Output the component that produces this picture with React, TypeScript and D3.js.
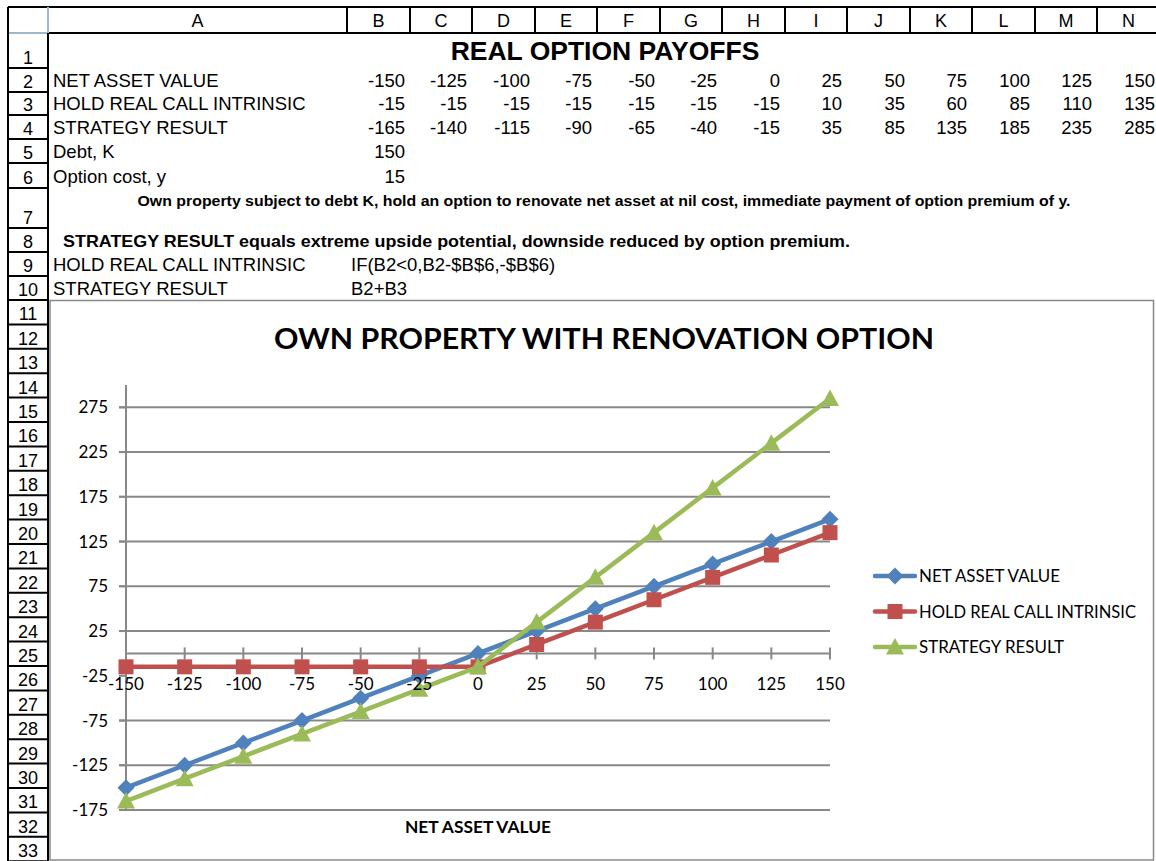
import React, { useEffect, useRef } from "react";
import * as d3 from "d3";

// chart / sheet values
const categories = ["-150", "-125", "-100", "-75", "-50", "-25", "0", "25", "50", "75", "100", "125", "150"];
const netAssetValue = [-150, -125, -100, -75, -50, -25, 0, 25, 50, 75, 100, 125, 150];
const holdRealCall = [-15, -15, -15, -15, -15, -15, -15, 10, 35, 60, 85, 110, 135];
const strategyResult = [-165, -140, -115, -90, -65, -40, -15, 35, 85, 135, 185, 235, 285];
const yTicks = [-175, -125, -75, -25, 25, 75, 125, 175, 225, 275];

const columnLetters = ["A", "B", "C", "D", "E", "F", "G", "H", "I", "J", "K", "L", "M", "N"];
const seriesNames = ["NET ASSET VALUE", "HOLD REAL CALL INTRINSIC", "STRATEGY RESULT"];
const debtK = 150;
const optionCost = 15;

const W = 1156;
const H = 861;
const SHEET_FONT = "'Liberation Sans', Arial, sans-serif";
const CHART_FONT = "Lato, 'Open Sans', sans-serif";

const App = () => {
  const ref = useRef(null);

  useEffect(() => {
    const svg = d3.select(ref.current);
    svg.selectAll("*").remove();

    // ---------- sheet grid ----------
    const colEdges = [48, 347, 410, 472, 535, 597, 660, 722, 785, 847, 910, 972, 1035, 1097, 1160];
    const rowEdges = [33, 68, 92, 115, 139, 163, 188, 228, 252, 276, 300];
    for (let r = 11; r <= 33; r++) rowEdges.push(300 + (r - 10) * 24.4);

    svg.append("rect").attr("width", W).attr("height", H).attr("fill", "white");

    // column headers
    const head = svg.append("g");
    head.append("line").attr("x1", 8).attr("x2", W).attr("y1", 7).attr("y2", 7)
      .attr("stroke", "#000").attr("stroke-width", 2);
    head.append("line").attr("x1", 48).attr("x2", W).attr("y1", 33).attr("y2", 33)
      .attr("stroke", "#000").attr("stroke-width", 2);
    head.append("line").attr("x1", 8).attr("x2", 48).attr("y1", 33).attr("y2", 33)
      .attr("stroke", "#9fb6cf").attr("stroke-width", 2);
    head.append("line").attr("x1", 48).attr("x2", 48).attr("y1", 7).attr("y2", 33)
      .attr("stroke", "#9fb6cf").attr("stroke-width", 2);
    colEdges.slice(1).forEach((x) => {
      head.append("line").attr("x1", x).attr("x2", x).attr("y1", 7).attr("y2", 33)
        .attr("stroke", "#000").attr("stroke-width", 2);
    });
    columnLetters.forEach((c, i) => {
      head.append("text")
        .attr("x", (colEdges[i] + colEdges[i + 1]) / 2)
        .attr("y", 27)
        .attr("text-anchor", "middle")
        .attr("font-family", SHEET_FONT)
        .attr("font-size", 18)
        .text(c);
    });

    // row headers
    head.append("line").attr("x1", 8).attr("x2", 8).attr("y1", 7).attr("y2", H)
      .attr("stroke", "#000").attr("stroke-width", 2);
    head.append("line").attr("x1", 48).attr("x2", 48).attr("y1", 33).attr("y2", H)
      .attr("stroke", "#000").attr("stroke-width", 2);
    rowEdges.forEach((y, i) => {
      if (i === 0) return;
      head.append("line").attr("x1", 8).attr("x2", 48).attr("y1", y).attr("y2", y)
        .attr("stroke", "#000").attr("stroke-width", 2);
      head.append("text")
        .attr("x", 28)
        .attr("y", y - 4)
        .attr("text-anchor", "middle")
        .attr("font-family", SHEET_FONT)
        .attr("font-size", 18)
        .text(i);
    });

    const rowBottom = (r) => rowEdges[r];
    const cellText = (txt, x, r, opts = {}) => {
      svg.append("text")
        .attr("x", x)
        .attr("y", rowBottom(r) - (opts.pad ?? 5))
        .attr("text-anchor", opts.anchor || "start")
        .attr("font-family", SHEET_FONT)
        .attr("font-size", opts.size || 18.5)
        .attr("font-weight", opts.bold ? "bold" : "normal")
        .attr("textLength", opts.len || null)
        .attr("lengthAdjust", opts.len ? "spacingAndGlyphs" : null)
        .text(txt);
    };

    cellText("REAL OPTION PAYOFFS", 605, 1, { anchor: "middle", bold: true, size: 26.5, pad: 8 });
    [netAssetValue, holdRealCall, strategyResult].forEach((vals, s) => {
      cellText(seriesNames[s], 53, s + 2);
      vals.forEach((v, i) => cellText(String(v), colEdges[i + 2] - 5, s + 2, { anchor: "end" }));
    });
    cellText("Debt, K", 53, 5);
    cellText(String(debtK), colEdges[2] - 5, 5, { anchor: "end" });
    cellText("Option cost, y", 53, 6);
    cellText(String(optionCost), colEdges[2] - 5, 6, { anchor: "end" });
    cellText(
      "Own property subject to debt K, hold an option to renovate net asset at nil cost, immediate payment of option premium of y.",
      604, 7, { anchor: "middle", bold: true, size: 14.5, pad: 22, len: 933 }
    );
    cellText(
      "STRATEGY RESULT equals extreme upside potential, downside reduced by option premium.",
      63, 8, { bold: true, size: 16.5, len: 787 }
    );
    cellText(seriesNames[1], 53, 9);
    cellText("IF(B2<0,B2-$B$6,-$B$6)", 351, 9);
    cellText(seriesNames[2], 53, 10);
    cellText("B2+B3", 351, 10);

    // ---------- chart ----------
    const chart = svg.append("g");
    chart.append("rect")
      .attr("x", 50).attr("y", 300.5).attr("width", 1103.5).attr("height", 559.5)
      .attr("fill", "white").attr("stroke", "#8a8a8a").attr("stroke-width", 1.5);

    chart.append("text")
      .attr("x", 604).attr("y", 349)
      .attr("text-anchor", "middle")
      .attr("font-family", CHART_FONT)
      .attr("font-weight", "bold")
      .attr("font-size", 29)
      .attr("textLength", 660)
      .attr("lengthAdjust", "spacingAndGlyphs")
      .text("OWN PROPERTY WITH RENOVATION OPTION");

    const x = d3.scalePoint().domain(categories).range([126, 830]);
    const y = d3.scaleLinear().domain([-175, 300]).range([810, 385]);
    const grid = "#888888";

    // gridlines + y ticks (the -25 line sits under the x labels and is not shown)
    yTicks.filter((t) => t !== -25).forEach((t) => {
      chart.append("line").attr("x1", 119).attr("x2", 830).attr("y1", y(t)).attr("y2", y(t))
        .attr("stroke", grid).attr("stroke-width", 2);
    });
    yTicks.forEach((t) => {
      chart.append("line").attr("x1", 119).attr("x2", 126).attr("y1", y(t)).attr("y2", y(t))
        .attr("stroke", grid).attr("stroke-width", 2);
      chart.append("text")
        .attr("x", 108).attr("y", y(t) + 6)
        .attr("text-anchor", "end")
        .attr("font-family", CHART_FONT)
        .attr("font-size", 17)
        .text(t);
    });
    chart.append("line").attr("x1", 126).attr("x2", 126).attr("y1", 385).attr("y2", 810)
      .attr("stroke", grid).attr("stroke-width", 2);

    // x axis at zero
    chart.append("line").attr("x1", 126).attr("x2", 830).attr("y1", y(0)).attr("y2", y(0))
      .attr("stroke", grid).attr("stroke-width", 2);
    categories.forEach((c) => {
      chart.append("line").attr("x1", x(c)).attr("x2", x(c)).attr("y1", y(0) - 6).attr("y2", y(0) + 6)
        .attr("stroke", grid).attr("stroke-width", 2);
    });

    chart.append("text")
      .attr("x", 478).attr("y", 833)
      .attr("text-anchor", "middle")
      .attr("font-family", CHART_FONT)
      .attr("font-weight", "bold")
      .attr("font-size", 17.5)
      .attr("textLength", 146)
      .attr("lengthAdjust", "spacingAndGlyphs")
      .text("NET ASSET VALUE");

    const markers = {
      diamond: "M0,-8.5L8.5,0L0,8.5L-8.5,0Z",
      square: "M-7.5,-7.5H7.5V7.5H-7.5Z",
      triangle: "M0,-9L9,7.5L-9,7.5Z",
    };
    const series = [
      { name: seriesNames[0], values: netAssetValue, color: "#4F81BD", marker: markers.diamond },
      { name: seriesNames[1], values: holdRealCall, color: "#C0504D", marker: markers.square },
      { name: seriesNames[2], values: strategyResult, color: "#9BBB59", marker: markers.triangle },
    ];

    const line = d3.line().x((d, i) => x(categories[i])).y((d) => y(d));

    series.forEach((s) => {
      chart.append("path")
        .attr("d", line(s.values))
        .attr("fill", "none")
        .attr("stroke", s.color)
        .attr("stroke-width", 4.5)
        .attr("stroke-linejoin", "round");
      s.values.forEach((v, i) => {
        chart.append("path")
          .attr("d", s.marker)
          .attr("transform", `translate(${x(categories[i])},${y(v)})`)
          .attr("fill", s.color);
      });
    });

    // x labels drawn over the lines
    categories.forEach((c) => {
      chart.append("text")
        .attr("x", x(c)).attr("y", 690)
        .attr("text-anchor", "middle")
        .attr("font-family", CHART_FONT)
        .attr("font-size", 17)
        .text(c);
    });

    // legend
    const legendLens = [141, 217, 145];
    series.forEach((s, i) => {
      const ly = 576 + i * 35.5;
      chart.append("line").attr("x1", 875).attr("x2", 915).attr("y1", ly).attr("y2", ly)
        .attr("stroke", s.color).attr("stroke-width", 4.5).attr("stroke-linecap", "round");
      chart.append("path").attr("d", s.marker).attr("transform", `translate(895,${ly})`).attr("fill", s.color);
      chart.append("text")
        .attr("x", 919).attr("y", ly + 6)
        .attr("font-family", CHART_FONT)
        .attr("font-size", 16.5)
        .attr("textLength", legendLens[i])
        .attr("lengthAdjust", "spacingAndGlyphs")
        .text(s.name);
    });
  }, []);

  return (
    <div style={{ position: "absolute", left: 0, top: 0 }}>
      <svg ref={ref} width={W} height={H} style={{ display: "block" }}></svg>
    </div>
  );
};

export default App;
